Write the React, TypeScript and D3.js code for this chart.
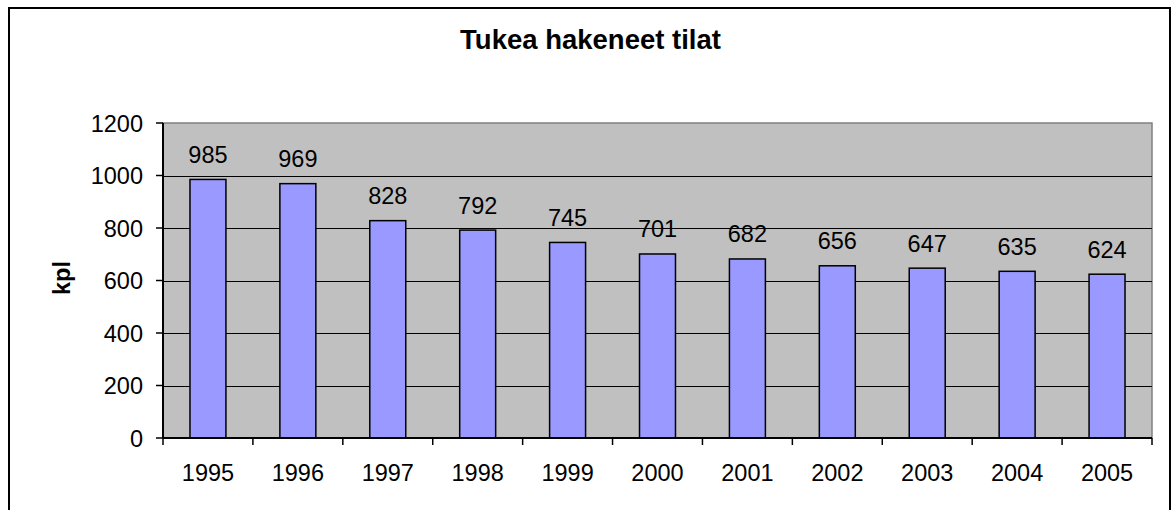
import { useRef, useEffect } from "react";
import * as d3 from "d3";

const years = ["1995", "1996", "1997", "1998", "1999", "2000", "2001", "2002", "2003", "2004", "2005"];
const counts = [985, 969, 828, 792, 745, 701, 682, 656, 647, 635, 624];
const yTicks = [0, 200, 400, 600, 800, 1000, 1200];

const WIDTH = 1176;
const HEIGHT = 510;
const FONT = "Arial, 'Liberation Sans', sans-serif";

export default function App() {
  const svgRef = useRef<SVGSVGElement>(null);

  useEffect(() => {
    if (!svgRef.current) return;
    const svg = d3.select(svgRef.current);
    svg.selectAll("*").remove();

    const plot = { left: 163, top: 123, right: 1152, bottom: 438 };

    // outer chart border
    svg
      .append("rect")
      .attr("x", 9)
      .attr("y", 8)
      .attr("width", 1161)
      .attr("height", 520)
      .attr("fill", "#fff")
      .attr("stroke", "#000")
      .attr("stroke-width", 2);

    const x = d3
      .scaleBand()
      .domain(years)
      .range([plot.left, plot.right])
      .paddingInner(0.6)
      .paddingOuter(0.3);

    const xCat = d3.scaleBand().domain(years).range([plot.left, plot.right]);

    const y = d3.scaleLinear().domain([0, 1200]).range([plot.bottom, plot.top]);

    // plot area
    svg
      .append("rect")
      .attr("x", plot.left)
      .attr("y", plot.top)
      .attr("width", plot.right - plot.left)
      .attr("height", plot.bottom - plot.top)
      .attr("fill", "#c0c0c0")
      .attr("stroke", "#808080")
      .attr("stroke-width", 1.5);

    // gridlines
    svg
      .selectAll(".grid")
      .data(yTicks.filter((t) => t > 0 && t < 1200))
      .enter()
      .append("line")
      .attr("x1", plot.left)
      .attr("x2", plot.right)
      .attr("y1", (d) => Math.round(y(d)) + 0.5)
      .attr("y2", (d) => Math.round(y(d)) + 0.5)
      .attr("stroke", "#000")
      .attr("stroke-width", 1.2);

    // bars
    svg
      .selectAll(".bar")
      .data(counts)
      .enter()
      .append("rect")
      .attr("x", (_, i) => x(years[i]) || 0)
      .attr("width", x.bandwidth())
      .attr("y", (d) => y(d))
      .attr("height", (d) => plot.bottom - y(d))
      .attr("fill", "#9999ff")
      .attr("stroke", "#000")
      .attr("stroke-width", 1.5);

    // axes lines
    svg
      .append("line")
      .attr("x1", plot.left)
      .attr("x2", plot.left)
      .attr("y1", plot.top)
      .attr("y2", plot.bottom)
      .attr("stroke", "#000")
      .attr("stroke-width", 2);
    svg
      .append("line")
      .attr("x1", plot.left)
      .attr("x2", plot.right)
      .attr("y1", plot.bottom)
      .attr("y2", plot.bottom)
      .attr("stroke", "#000")
      .attr("stroke-width", 2);

    // y ticks + labels
    svg
      .selectAll(".ytick")
      .data(yTicks)
      .enter()
      .append("line")
      .attr("x1", plot.left - 7)
      .attr("x2", plot.left)
      .attr("y1", (d) => y(d))
      .attr("y2", (d) => y(d))
      .attr("stroke", "#000")
      .attr("stroke-width", 1.5);
    svg
      .selectAll(".ylabel")
      .data(yTicks)
      .enter()
      .append("text")
      .attr("x", 143)
      .attr("y", (d) => y(d) + 8.5)
      .attr("text-anchor", "end")
      .attr("font-family", FONT)
      .attr("font-size", "23.5px")
      .attr("fill", "#000")
      .text((d) => d);

    // x ticks at category boundaries
    const boundaries = years.map((yr) => xCat(yr) || 0).concat([plot.right]);
    svg
      .selectAll(".xtick")
      .data(boundaries)
      .enter()
      .append("line")
      .attr("x1", (d) => d)
      .attr("x2", (d) => d)
      .attr("y1", plot.bottom)
      .attr("y2", plot.bottom + 7)
      .attr("stroke", "#000")
      .attr("stroke-width", 1.5);
    svg
      .selectAll(".xlabel")
      .data(years)
      .enter()
      .append("text")
      .attr("x", (d) => (xCat(d) || 0) + xCat.bandwidth() / 2)
      .attr("y", 481)
      .attr("text-anchor", "middle")
      .attr("font-family", FONT)
      .attr("font-size", "23.5px")
      .attr("fill", "#000")
      .text((d) => d);

    // value labels
    svg
      .selectAll(".value")
      .data(counts)
      .enter()
      .append("text")
      .attr("x", (_, i) => (xCat(years[i]) || 0) + xCat.bandwidth() / 2)
      .attr("y", (d) => y(d) - 16.5)
      .attr("text-anchor", "middle")
      .attr("font-family", FONT)
      .attr("font-size", "23.5px")
      .attr("fill", "#000")
      .text((d) => d);

    // title
    svg
      .append("text")
      .attr("x", (plot.left + plot.right) / 2 - 67)
      .attr("y", 49)
      .attr("text-anchor", "middle")
      .attr("font-family", FONT)
      .attr("font-size", "27.5px")
      .attr("font-weight", "bold")
      .attr("fill", "#000")
      .text("Tukea hakeneet tilat");

    // y axis title
    svg
      .append("text")
      .attr("transform", "translate(70, 278) rotate(-90)")
      .attr("text-anchor", "middle")
      .attr("font-family", FONT)
      .attr("font-size", "23.5px")
      .attr("font-weight", "bold")
      .attr("fill", "#000")
      .text("kpl");
  }, []);

  return (
    <svg
      ref={svgRef}
      width={WIDTH}
      height={HEIGHT}
      style={{ position: "absolute", left: 0, top: 0 }}
    />
  );
}
